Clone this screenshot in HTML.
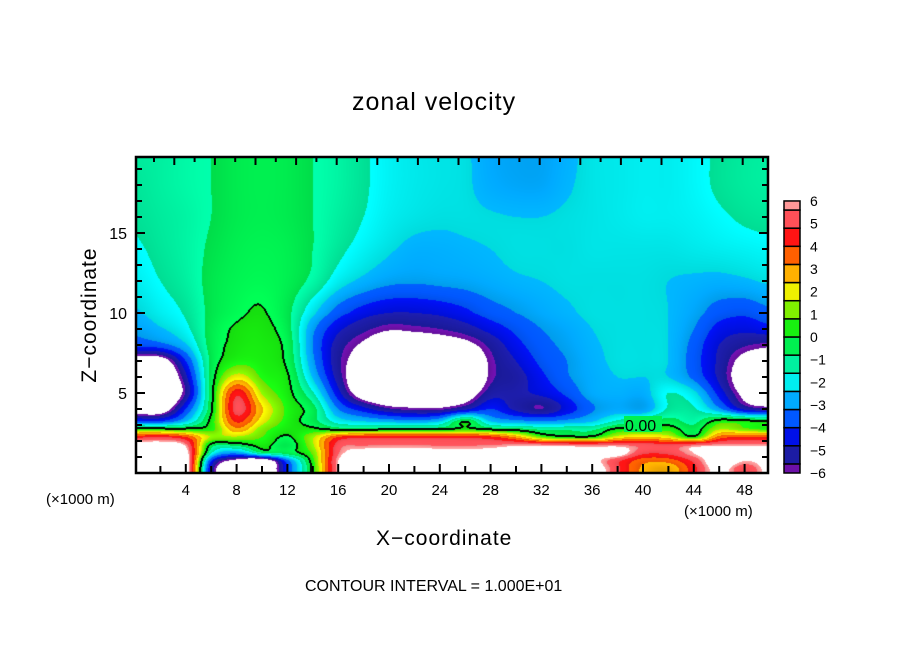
<!DOCTYPE html>
<html><head><meta charset="utf-8"><style>
body{margin:0;background:#fff;width:904px;height:654px;overflow:hidden;position:relative;font-family:"Liberation Sans",sans-serif;}
.t{position:absolute;color:#000;white-space:nowrap;}
</style></head><body>
<div class="t" style="left:352px;top:88px;font-size:25px;letter-spacing:1px;">zonal velocity</div>
<div class="t" style="left:20px;top:303px;font-size:21px;letter-spacing:1px;transform:rotate(-90deg);transform-origin:center;width:140px;text-align:center;">Z−coordinate</div>
<div class="t" style="left:376px;top:527px;font-size:21px;letter-spacing:1px;">X−coordinate</div>
<div class="t" style="left:46px;top:491px;font-size:15px;">(×1000 m)</div>
<div class="t" style="left:684px;top:503px;font-size:15px;">(×1000 m)</div>
<div class="t" style="left:305px;top:578px;font-size:16px;">CONTOUR INTERVAL = 1.000E+01</div>
<canvas id="field" width="632" height="317" style="position:absolute;left:136px;top:157px;"></canvas>
<svg id="ov" width="904" height="654" style="position:absolute;left:0;top:0;"></svg>
<script>
const xs=[0,2,4,6,8,10,12,14,16,18,20,22,24,26,28,30,32,34,36,38,40,42,44,46,48,50];
const zs=[0.25,0.75,1.25,1.75,2.25,2.75,3.25,4,5,6,7,8,9,10,12,14,16,18,20];
const row_z0_25=[8,8,7,-5,-6.8,-8,-4,0.3,6,8,8,8,8,8,8,8,8,8,7,5,3,2.5,4.5,6.5,5,6.5];
const row_z0_75=[8,8,7,-4,-6.5,-7.5,-3.5,0.5,6,7.5,8,8,8,8,8,8,8,8,6.5,5,3.5,3.5,5,7,6,6.5];
const row_z1_25=[7.5,7,6.5,-1.5,-3,-1,-0.5,1,5.5,6.6,6.8,6.8,6.6,6.6,6.6,6.8,6.8,6.6,6.3,6.6,5,5,6,6.8,6.5,6.5];
const row_z1_75=[6.5,6.5,5.8,-0.3,-0.5,0.3,-0.5,1.5,5.2,5.5,5.6,5.6,5.5,5.5,5.6,5.8,5.8,5.6,5.5,5.6,5.3,5,5.5,5.8,5.8,5.8];
const row_z2_25=[4.5,4.8,4,1.5,1.5,0.8,-0.1,1.5,4,4.5,4.5,4.5,4.5,4.5,4.2,3,1,0.3,0.3,2,2.5,2,0.3,3.5,4,4];
const row_z2_75=[0.5,0.3,0.2,0.5,3,1.2,0.3,0.2,-0.3,-0.3,-0.2,-0.2,-0.2,0.3,-0.2,-0.5,-1,-1,-1,0.2,0.3,0.5,-0.5,1.5,1,0.5];
const row_z3_25=[-4,-4,-2.5,0.3,4.2,2,0.5,-0.5,-2,-2.5,-2.8,-3,-2.5,-0.2,-2.5,-3,-3.2,-3,-2.5,-1.5,-1,-0.5,-1,0.3,0.2,-0.1];
const row_z4=[-7,-7,-4,-0.2,5.2,2.5,0.6,-0.5,-3.2,-4.5,-5.5,-5.8,-5.8,-5,-4,-5,-5.6,-4.5,-3.3,-2.8,-3,-1.5,-1.5,-3,-5,-5.5];
const row_z5=[-8,-8,-5.5,-0.3,4.5,1.5,0.3,-1.5,-4.5,-7,-8,-8,-8,-7,-5.2,-5,-4.6,-3.8,-2.8,-2.6,-2.7,-1.6,-2.2,-4.3,-6.5,-8];
const row_z6=[-8,-8,-5,-0.5,2,0.7,0.1,-2.5,-5.2,-7.5,-8,-8,-8,-8,-5.8,-5.2,-4.2,-3.3,-2.7,-2.4,-2.4,-2.4,-3.4,-5,-7,-8];
const row_z7=[-6.8,-6.8,-4,-0.6,0.5,0.4,-0.2,-3,-5.4,-6.8,-8,-8,-8,-7.5,-5.8,-4.8,-3.8,-3.2,-2.6,-2.3,-2.3,-2.4,-3.6,-5,-6.5,-7.2];
const row_z8=[-3.8,-3.5,-2.5,-0.5,0.2,0.3,-0.3,-3.2,-5.2,-6.2,-7,-7,-6.8,-6.4,-5.4,-4.3,-3.5,-3,-2.5,-2.3,-2.3,-2.4,-3.5,-4.8,-5.5,-5.8];
const row_z9=[-3,-2.5,-1.8,-0.5,0.1,0.2,-0.5,-3,-4.6,-5.4,-5.9,-5.8,-5.6,-5.2,-4.5,-3.8,-3.2,-2.8,-2.4,-2.3,-2.3,-2.4,-3.2,-4.3,-4.6,-4.3];
const row_z10=[-2.5,-2,-1.5,-0.6,-0.15,0.05,-0.6,-2.2,-3.6,-4.4,-4.8,-4.8,-4.6,-4.2,-3.6,-3.2,-2.8,-2.5,-2.3,-2.3,-2.3,-2.4,-2.9,-3.6,-3.8,-3.4];
const row_z12=[-2,-1.6,-1.2,-0.6,-0.3,-0.2,-0.4,-1,-2,-2.6,-3,-3.1,-3,-2.9,-2.7,-2.5,-2.4,-2.3,-2.3,-2.3,-2.3,-2.4,-2.5,-2.6,-2.5,-2.3];
const row_z14=[-1.7,-1.4,-1.1,-0.7,-0.4,-0.3,-0.4,-0.8,-1.4,-1.9,-2.3,-2.6,-2.6,-2.5,-2.4,-2.3,-2.3,-2.3,-2.2,-2.2,-2.2,-2.2,-2.1,-2,-1.9,-1.8];
const row_z16=[-1.5,-1.3,-1.1,-0.8,-0.5,-0.4,-0.5,-0.8,-1.2,-1.6,-2,-2.2,-2.3,-2.3,-2.35,-2.4,-2.4,-2.3,-2.2,-2.1,-2,-2,-1.9,-1.7,-1.5,-1.4];
const row_z18=[-1.4,-1.2,-1,-0.8,-0.5,-0.4,-0.5,-0.8,-1.1,-1.5,-1.9,-2.1,-2.2,-2.3,-2.7,-2.9,-2.9,-2.5,-2.2,-2.1,-2,-2,-1.8,-1.5,-1.3,-1.2];
const row_z20=[-1.3,-1.2,-1,-0.8,-0.5,-0.4,-0.5,-0.8,-1.1,-1.5,-1.9,-2.1,-2.2,-2.3,-2.8,-3,-3,-2.6,-2.2,-2.1,-2,-2,-1.8,-1.5,-1.3,-1.2];
const rows=[row_z0_25,row_z0_75,row_z1_25,row_z1_75,row_z2_25,row_z2_75,row_z3_25,row_z4,row_z5,row_z6,row_z7,row_z8,row_z9,row_z10,row_z12,row_z14,row_z16,row_z18,row_z20];
const cbLevels=[-6,-5.6,-4.8,-4,-3.2,-2.4,-1.6,-0.8,0,0.8,1.6,2.4,3.2,4,4.8,5.6,6];
const cbColors=["#6c10a8","#1c1ca4","#0010e8","#0058ff","#00aaff","#00eef0","#00f0a0","#00f050","#18f010","#80f000","#eef000","#ffb000","#ff6000","#ff1414","#ff5058","#ff9898"];
const cbLabels=["6","5","4","3","2","1","0","−1","−2","−3","−4","−5","−6"];
const xTickLabels=[4,8,12,16,20,24,28,32,36,40,44,48];
const yTickLabels=[5,10,15];

const X0=135, PXU=12.7, Y0=473, PZU=16;
const px=x=>X0+x*PXU, py=z=>Y0-z*PZU;
const L=136,T=157,R=768,B=473;

function fracIndex(arr,v){
  if(v<=arr[0]) return 0;
  if(v>=arr[arr.length-1]) return arr.length-1;
  let j=0; while(j<arr.length-2 && v>arr[j+1]) j++;
  return j+(v-arr[j])/(arr[j+1]-arr[j]);
}
function cr(p0,p1,p2,p3,t){
  return p1+0.5*t*(p2-p0+t*(2*p0-5*p1+4*p2-p3+t*(3*(p1-p2)+p3-p0)));
}
function g(j,i){j=Math.max(0,Math.min(rows.length-1,j));i=Math.max(0,Math.min(xs.length-1,i));return rows[j][i];}
function field(x,z){
  const fi=fracIndex(xs,x), fj=fracIndex(zs,z);
  let i=Math.min(Math.floor(fi),xs.length-2), j=Math.min(Math.floor(fj),zs.length-2);
  const tx=fi-i, tz=fj-j;
  const c=[];
  for(let m=-1;m<=2;m++) c.push(cr(g(j+m,i-1),g(j+m,i),g(j+m,i+1),g(j+m,i+2),tx));
  return cr(c[0],c[1],c[2],c[3],tz);
}
function hex(h){return [parseInt(h.substr(1,2),16),parseInt(h.substr(3,2),16),parseInt(h.substr(5,2),16)];}
const cRGB=cbColors.map(hex);
function colorOf(v){
  if(v>6||v<-6) return [255,255,255];
  let k=0; while(k<cbLevels.length-2 && v>cbLevels[k+1]) k++;
  const c=cRGB[k], lo=cbLevels[k], hi=cbLevels[k+1];
  const f=(v-lo)/(hi-lo); const s=0.92+0.16*f;
  return [Math.min(255,c[0]*s),Math.min(255,c[1]*s),Math.min(255,c[2]*s)];
}
const cv=document.getElementById('field'), ctx=cv.getContext('2d');
const W=cv.width,H=cv.height, img=ctx.createImageData(W,H);
const F=new Float32Array(W*H);
for(let yy=0;yy<H;yy++)for(let xx=0;xx<W;xx++){
  const x=(L+xx+0.5-X0)/PXU, z=(Y0-(T+yy+0.5))/PZU;
  F[yy*W+xx]=field(x,z);
}
for(let yy=0;yy<H;yy++)for(let xx=0;xx<W;xx++){
  const k=yy*W+xx, v=F[k]; let c=colorOf(v);
  const s=Math.sign(v);
  let edge=false;
  if(xx<W-1 && Math.sign(F[k+1])!==s) edge=true;
  if(yy<H-1 && Math.sign(F[k+W])!==s) edge=true;
  if(xx>0 && Math.sign(F[k-1])!==s) edge=true;
  if(yy>0 && Math.sign(F[k-W])!==s) edge=true;
  if(edge) c=[0,0,0];
  img.data[k*4]=c[0];img.data[k*4+1]=c[1];img.data[k*4+2]=c[2];img.data[k*4+3]=255;
}
ctx.putImageData(img,0,0);

const NS='http://www.w3.org/2000/svg', ov=document.getElementById('ov');
function mk(tag,attrs,parent){const e=document.createElementNS(NS,tag);for(const k in attrs)e.setAttribute(k,attrs[k]);(parent||ov).appendChild(e);return e;}
const frame=mk('rect',{x:L,y:T,width:R-L,height:B-T,fill:'none',stroke:'#000','stroke-width':2.5});


for(let x=2;x<50;x+=2){
  const major=xTickLabels.includes(x);
  const t=mk('line',{x1:px(x),x2:px(x),y1:B,y2:B-(major?9:7),stroke:'#000','stroke-width':2});
  
  
}
for(let k=0;k<31;k++){
  const xx=154+k*20.3; if(xx>R-2)break;
  const t=mk('line',{x1:xx,x2:xx,y1:T,y2:T+(k%2===1?8:5),stroke:'#000','stroke-width':2});
  
  
}
xTickLabels.forEach(v=>{
  const t=mk('text',{x:px(v),y:495,'text-anchor':'middle','font-size':15,'font-family':'Liberation Sans, sans-serif'});
  t.textContent=v;
  
  
});
for(let z=1;z<20;z++){
  const major=z%5===0;
  [[L,1],[R,-1]].forEach(([xe,d])=>{
    const t=mk('line',{x1:xe,x2:xe+d*(major?9:6),y1:py(z),y2:py(z),stroke:'#000','stroke-width':2});
    
    
  });
}
yTickLabels.forEach(v=>{
  const t=mk('text',{x:127,y:py(v)+6,'text-anchor':'end','font-size':16,'font-family':'Liberation Sans, sans-serif'});
  t.textContent=v;
  
  
});
const cl=mk('rect',{x:624,y:416,width:38,height:16,fill:'#00f050'});


const ct=mk('text',{x:625,y:431,'font-size':16,'font-family':'Liberation Sans, sans-serif'});
ct.textContent='0.00';


const CBX=784,CBW=16,CBB=473,CBU=22.67;
const cby=v=>CBB-(v+6)*CBU;
for(let k=0;k<cbColors.length;k++){
  const r=mk('rect',{x:CBX,y:cby(cbLevels[k+1]),width:CBW,height:cby(cbLevels[k])-cby(cbLevels[k+1]),fill:cbColors[k],stroke:'#000','stroke-width':1.5});
  
  
}
cbLabels.forEach((s,i)=>{
  const t=mk('text',{x:810,y:cby(6-i)+5,'font-size':14,'font-family':'Liberation Sans, sans-serif'});
  t.textContent=s;
  
  
});
</script>
</body></html>
